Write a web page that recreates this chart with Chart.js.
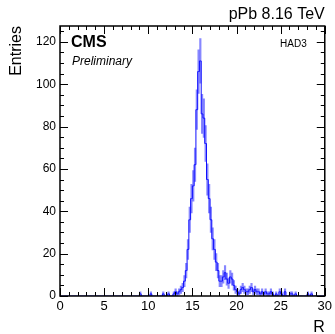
<!DOCTYPE html>
<html>
<head>
<meta charset="utf-8">
<script src="https://cdn.jsdelivr.net/npm/chart.js@4.4.1/dist/chart.umd.min.js"></script>
<style>
  body { margin: 0; background: #fff; }
  canvas { display: block; }
</style>
</head>
<body>
<canvas id="histChart" width="335" height="334"></canvas>
<script>
//DATA
//histogram range and binning (150 bins from 0 to 30)
const xMin = 0;
const xMax = 30;
const binWidth = 0.2;
//entries per bin, one row = 2 units of R
const counts = [
    0, 0, 0, 0, 0, 0, 0, 0, 0, 0,
    0, 0, 0, 0, 0, 0, 0, 0, 0, 0,
    0, 0, 0, 0, 0, 0, 0, 0, 0, 0,
    0, 0, 0, 0, 0, 0, 0, 0, 0, 0,
    0, 0, 0, 0, 0, 1, 0, 0, 0, 0,
    0, 1, 0, 0, 0, 0, 0, 0, 1, 0,
    0, 1, 0, 0, 1, 2, 1, 2, 3, 4,
    7, 12, 22, 36, 46, 52, 62, 88, 106, 111,
    86, 84, 72, 55, 46, 36, 27, 22, 16, 12,
    7, 7, 9, 11, 8, 6, 9, 8, 5, 3,
    2, 1, 3, 4, 3, 2, 2, 3, 4, 2,
    3, 2, 2, 1, 2, 1, 2, 1, 1, 2,
    1, 0, 1, 0, 2, 1, 0, 2, 0, 0,
    1, 1, 0, 1, 0, 0, 0, 0, 0, 0,
    1, 0, 1, 0, 0, 0, 0, 0, 0, 0
];
//axis ticks
const xTicks = [0, 5, 10, 15, 20, 25, 30];
const yTicks = [0, 20, 40, 60, 80, 100, 120];
const yMax = 127.5;

//build points at bin centres + sqrt(N) error bars
const histPoints = counts.map((n, i) => ({ x: xMin + binWidth * (i + 0.5), y: n }));
const errPoints = [];
counts.forEach((n, i) => {
    if (n > 0) {
        const e = Math.sqrt(n);
        errPoints.push({ x: xMin + binWidth * (i + 0.5), y: [n - e, n + e] });
    }
});

const FONT = "'Liberation Sans', Arial, Helvetica, sans-serif";
Chart.defaults.font.family = FONT;
Chart.defaults.color = '#000';

//frame with inward ticks and the labels around it (ROOT style)
const rootFrame = {
    id: 'rootFrame',
    afterDraw(chart) {
        const { ctx, chartArea: a, scales: { x, y } } = chart;
        ctx.save();
        ctx.strokeStyle = '#000';
        ctx.lineWidth = 1;
        ctx.beginPath();
        //x ticks bottom + top
        for (let v = xMin; v <= xMax; v += 1) {
            const px = Math.round(x.getPixelForValue(v)) + 0.5;
            const len = (v % 5 === 0) ? 8 : 4;
            ctx.moveTo(px, a.bottom); ctx.lineTo(px, a.bottom - len);
            ctx.moveTo(px, a.top); ctx.lineTo(px, a.top + len);
        }
        //y ticks left + right
        for (let v = 0; v <= yMax; v += 5) {
            const py = Math.round(y.getPixelForValue(v)) + 0.5;
            const len = (v % 20 === 0) ? 8 : 4;
            ctx.moveTo(a.left, py); ctx.lineTo(a.left + len, py);
            ctx.moveTo(a.right, py); ctx.lineTo(a.right - len, py);
        }
        ctx.stroke();
        ctx.lineWidth = 1.5;
        ctx.strokeRect(a.left, a.top, a.right - a.left, a.bottom - a.top);

        //texts
        ctx.fillStyle = '#000';
        ctx.textBaseline = 'alphabetic';
        ctx.font = '16px ' + FONT;
        ctx.textAlign = 'right';
        ctx.fillText('pPb 8.16 TeV', a.right, 19);
        ctx.fillText('R', a.right, 332);
        ctx.save();
        ctx.translate(21, a.top);
        ctx.rotate(-Math.PI / 2);
        ctx.textAlign = 'right';
        ctx.fillText('Entries', 0, 0);
        ctx.restore();

        ctx.textAlign = 'left';
        ctx.font = 'bold 16px ' + FONT;
        ctx.fillText('CMS', a.left + 11, 47);
        ctx.font = 'italic 12px ' + FONT;
        ctx.fillText('Preliminary', a.left + 12, 65);
        ctx.textAlign = 'right';
        ctx.font = '10px ' + FONT;
        ctx.fillText('HAD3', a.right - 18, 47);
        ctx.restore();
    }
};

//CHART
const config = {
    type: 'bar',
    data: {
        datasets: [
            {
                type: 'line',
                data: histPoints,
                stepped: 'middle',
                borderColor: '#1010ff',
                borderWidth: 1,
                pointRadius: 0,
                fill: false,
                order: 0
            },
            {
                type: 'bar',
                data: errPoints,
                backgroundColor: 'rgba(70, 70, 255, 0.65)',
                borderWidth: 0,
                barThickness: 1.5,
                grouped: false,
                order: 1
            }
        ]
    },
    options: {
        responsive: false,
        animation: false,
        layout: { padding: { top: 26, right: 7, left: 0, bottom: 0 } },
        plugins: {
            legend: { display: false },
            tooltip: { enabled: false }
        },
        scales: {
            x: {
                type: 'linear',
                min: xMin,
                max: xMax,
                offset: false,
                grid: { display: false, drawTicks: false, offset: false },
                border: { display: false },
                afterBuildTicks: (s) => { s.ticks = xTicks.map(v => ({ value: v })); },
                ticks: { padding: 3, font: { size: 13 }, maxRotation: 0 },
                afterFit: (s) => { s.height = 38; }
            },
            y: {
                type: 'linear',
                min: 0,
                max: yMax,
                grid: { display: false, drawTicks: false },
                border: { display: false },
                afterBuildTicks: (s) => { s.ticks = yTicks.map(v => ({ value: v })); },
                ticks: { padding: 4, font: { size: 12 } },
                afterFit: (s) => { s.width = 60; }
            }
        }
    },
    plugins: [rootFrame]
};

//render
const histChart = new Chart(
    document.getElementById('histChart').getContext('2d'),
    config
);
</script>
</body>
</html>
